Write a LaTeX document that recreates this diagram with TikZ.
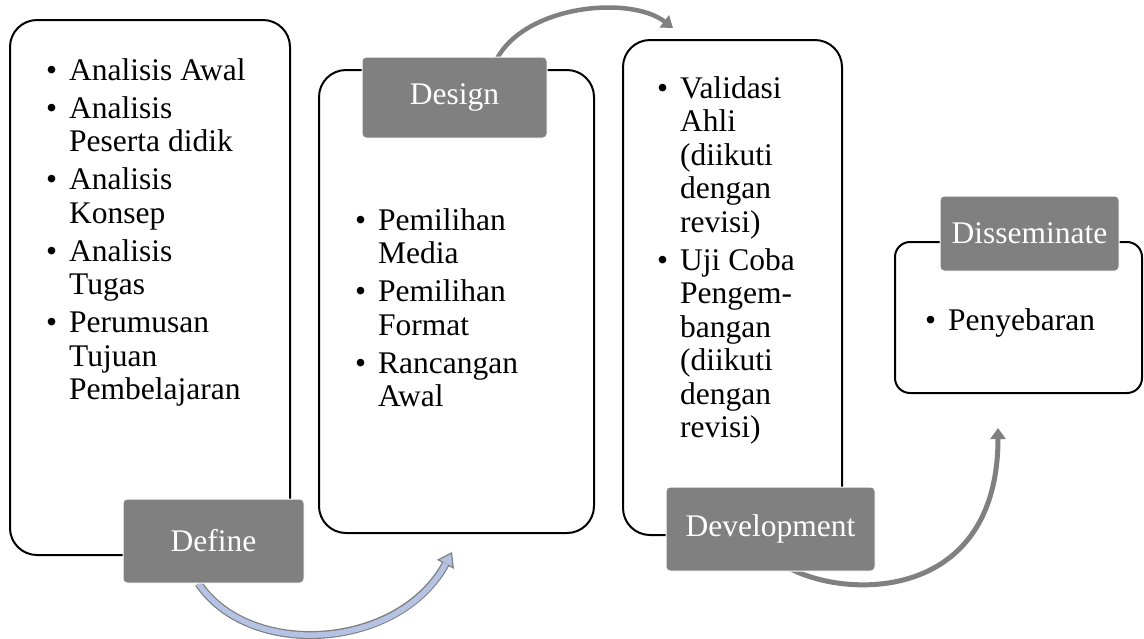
\documentclass[tikz,border=0pt]{standalone}
\usepackage{xcolor}
\usepackage{fontspec}
\setmainfont{Liberation Serif}
\usepackage{tikz}
\usetikzlibrary{arrows.meta, backgrounds}

\definecolor{labelabu}{RGB}{128,128,128}
\definecolor{panahabu}{RGB}{128,128,128}
\definecolor{panahbiru}{RGB}{180,194,228}

\newcommand{\daftar}[1]{\begin{tabular}[t]{@{}l@{\hspace{12pt}}l@{}}#1\end{tabular}}

\begin{document}
\begin{tikzpicture}[x=1pt,y=-1pt,>=Stealth]

% Stile kotak dan label
\tikzset{kotak/.style={draw=black, line width=2pt, rounded corners=27pt},
  tahapbox/.style={fill=labelabu, draw=white, line width=1pt, rounded corners=4pt,
    text=white, inner sep=0pt, font=\fontsize{31.5}{33.5}\selectfont},
  isi/.style={anchor=base west, inner sep=0pt, font=\fontsize{31.5}{33.5}\selectfont},
  panah/.style={panahabu, line width=4.5pt, -{Triangle[length=11pt,width=15pt]}}}

\useasboundingbox (0,0) rectangle (1144,638);

% --- Kotak tahap ---
\draw[kotak] (10,20) rectangle (290,555);
\draw[kotak] (319,70) rectangle (594,533);
\draw[kotak] (623,40) rectangle (842,535);
\draw[kotak, rounded corners=15pt] (895,242) rectangle (1142,393);

% Isi kotak
\node[isi] (isidefine) at (46,80) {\daftar{\textbullet & Analisis Awal\\[4.5pt]
  \textbullet & Analisis\\ & Peserta didik\\[4.5pt]
  \textbullet & Analisis\\ & Konsep\\[4.5pt]
  \textbullet & Analisis\\ & Tugas\\[4.5pt]
  \textbullet & Perumusan\\ & Tujuan\\ & Pembelajaran}};
\node[isi] (isidesign) at (355,230) {\daftar{\textbullet & Pemilihan\\ & Media\\[4.5pt]
  \textbullet & Pemilihan\\ & Format\\[4.5pt]
  \textbullet & Rancangan\\ & Awal}};
\node[isi] (isidevelop) at (657,98) {\daftar{\textbullet & Validasi\\ & Ahli\\ & (diikuti\\ & dengan\\ & revisi)\\[4.5pt]
  \textbullet & Uji Coba\\ & Pengem-\\ & bangan\\ & (diikuti\\ & dengan\\ & revisi)}};
\node[isi] (isidissem) at (925,330) {\daftar{\textbullet & Penyebaran}};

% --- Label tahap ---
\node[tahapbox, minimum width=181pt, minimum height=84pt] (define) at (213.5,541) {Define};
\node[tahapbox, minimum width=185pt, minimum height=81pt] (design) at (454.5,97.5) {Design};
\node[tahapbox, minimum width=209pt, minimum height=84pt] (development) at (770.5,529) {Development};
\node[tahapbox, minimum width=179pt, minimum height=75pt] (disseminate) at (1029.5,233.5) {Disseminate};

% --- Panah antar tahap ---
\coordinate (ujung1) at (452,552);
\coordinate (ujung2) at (673,28);
\coordinate (ujung3) at (998,428);

\begin{scope}[on background layer]
% panah Define -> Design
\draw[panahabu, line width=8pt, shorten >=12pt] ([xshift=-15pt]define.south)
  .. controls (250,660) and (400,650) .. (ujung1);
\draw[panahabu, line width=1.2pt, -{Triangle[length=14pt,width=19pt,fill=panahbiru]}]
  ([xshift=-15pt]define.south) .. controls (250,660) and (400,650) .. (ujung1);
\draw[panahbiru, line width=5.5pt, shorten >=13pt] ([xshift=-15pt]define.south)
  .. controls (250,660) and (400,650) .. (ujung1);

% panah Design -> Development
\draw[panah] ([xshift=42pt,yshift=-3pt]design.north) .. controls (525,5) and (630,-5) .. (ujung2);

% panah Development -> Disseminate
\draw[panah, line width=5pt] ([xshift=19.5pt,yshift=3pt]development.south)
  .. controls (850,600) and (998,600) .. (ujung3);
\end{scope}

\end{tikzpicture}
\end{document}
